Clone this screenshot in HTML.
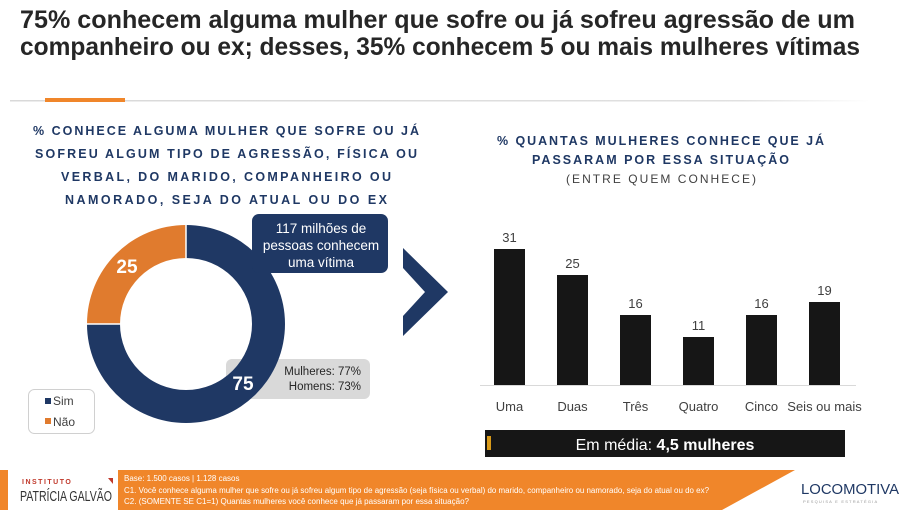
<!DOCTYPE html>
<html><head><meta charset="utf-8"><style>
html,body{margin:0;padding:0;background:#fff;}
svg{display:block;}
text{font-family:"Liberation Sans",sans-serif;}
</style></head><body>
<svg width="909" height="510" viewBox="0 0 909 510" xmlns="http://www.w3.org/2000/svg">
<!-- title -->
<text x="20" y="28" font-size="25" font-weight="bold" fill="#262626" textLength="835" lengthAdjust="spacingAndGlyphs">75% conhecem alguma mulher que sofre ou já sofreu agressão de um</text>
<text x="20" y="55" font-size="25" font-weight="bold" fill="#262626" textLength="840" lengthAdjust="spacingAndGlyphs">companheiro ou ex; desses, 35% conhecem 5 ou mais mulheres vítimas</text>
<!-- divider -->
<defs><linearGradient id="g" x1="0" x2="1"><stop offset="0" stop-color="#d9d9d9"/><stop offset="0.85" stop-color="#e0e0e0"/><stop offset="1" stop-color="#fff"/></linearGradient></defs>
<rect x="10" y="100" width="860" height="1.5" fill="url(#g)"/>
<rect x="45" y="98" width="80" height="4" fill="#f0862a"/>
<!-- headings -->
<g font-size="12.5" font-weight="bold" fill="#1f3864">
<text x="33" y="135" textLength="386" lengthAdjust="spacing">% CONHECE ALGUMA MULHER QUE SOFRE OU  JÁ</text>
<text x="35" y="158" textLength="382" lengthAdjust="spacing">SOFREU ALGUM TIPO DE AGRESSÃO, FÍSICA OU</text>
<text x="61" y="181" textLength="330" lengthAdjust="spacing">VERBAL, DO MARIDO, COMPANHEIRO OU</text>
<text x="65" y="204" textLength="322" lengthAdjust="spacing">NAMORADO, SEJA DO ATUAL OU  DO EX</text>
<text x="497" y="145" textLength="327" lengthAdjust="spacing">% QUANTAS MULHERES CONHECE QUE JÁ</text>
<text x="532" y="164" textLength="257" lengthAdjust="spacing">PASSARAM POR ESSA SITUAÇÃO</text>
</g>
<text x="566" y="183" font-size="12" fill="#404040" textLength="190" lengthAdjust="spacing">(ENTRE QUEM CONHECE)</text>
<!-- gray box (behind donut) -->
<rect x="226" y="359" width="144" height="40" rx="6" fill="#d9d9d9"/>
<text x="361" y="375" font-size="11.5" fill="#262626" text-anchor="end">Mulheres: 77%</text>
<text x="361" y="390" font-size="11.5" fill="#262626" text-anchor="end">Homens: 73%</text>
<!-- donut -->
<path d="M186 225 A99 99 0 1 1 87 324 L120 324 A66 66 0 1 0 186 258 Z" fill="#1f3864"/>
<path d="M87 324 A99 99 0 0 1 186 225 L186 258 A66 66 0 0 0 120 324 Z" fill="#e07b2e"/>
<line x1="186" y1="225" x2="186" y2="258" stroke="#fff" stroke-width="1.5"/>
<line x1="87" y1="324" x2="120" y2="324" stroke="#fff" stroke-width="1.5"/>
<text x="127" y="273" font-size="19" font-weight="bold" fill="#fff" text-anchor="middle">25</text>
<text x="243" y="390" font-size="19" font-weight="bold" fill="#fff" text-anchor="middle">75</text>
<!-- navy callout -->
<rect x="252" y="214" width="136" height="59" rx="7" fill="#1f3864"/>
<g font-size="13.5" fill="#fff" text-anchor="middle">
<text x="321" y="233">117 milhões de</text>
<text x="321" y="250">pessoas conhecem</text>
<text x="321" y="267">uma vítima</text>
</g>
<!-- arrow chevron -->
<path d="M403 248 L448 292 L403 336 L403 316 L425 292 L403 268 Z" fill="#1f3864"/>
<!-- legend -->
<rect x="28.5" y="389.5" width="66" height="44" rx="6" fill="#fff" stroke="#d0d0d0"/>
<rect x="45" y="398" width="6" height="6" fill="#1f3864"/>
<text x="53" y="405" font-size="12" fill="#404040">Sim</text>
<rect x="45" y="418" width="6" height="6" fill="#e07b2e"/>
<text x="53" y="426" font-size="12" fill="#404040">Não</text>
<!-- bars -->
<line x1="480" y1="385.5" x2="856" y2="385.5" stroke="#d9d9d9" stroke-width="1"/>
<g fill="#161616">
<rect x="494" y="249" width="31" height="136"/>
<rect x="557" y="275" width="31" height="110"/>
<rect x="620" y="315" width="31" height="70"/>
<rect x="683" y="337" width="31" height="48"/>
<rect x="746" y="315" width="31" height="70"/>
<rect x="809" y="302" width="31" height="83"/>
</g>
<g font-size="13" fill="#404040" text-anchor="middle">
<text x="509.5" y="242">31</text><text x="572.5" y="268">25</text><text x="635.5" y="308">16</text>
<text x="698.5" y="330">11</text><text x="761.5" y="308">16</text><text x="824.5" y="295">19</text>
<text x="509.5" y="411">Uma</text><text x="572.5" y="411">Duas</text><text x="635.5" y="411">Três</text>
<text x="698.5" y="411">Quatro</text><text x="761.5" y="411">Cinco</text><text x="824.5" y="411">Seis ou mais</text>
</g>
<rect x="485" y="430" width="360" height="27" fill="#161616"/>
<rect x="487" y="436" width="4" height="14" fill="#d89a1a"/>
<text x="665" y="450" font-size="16" fill="#fff" text-anchor="middle">Em média: <tspan font-weight="bold">4,5 mulheres</tspan></text>
<!-- footer -->
<rect x="0" y="470" width="8" height="40" fill="#f0862a"/>
<path d="M118 470 L795 470 L722 510 L118 510 Z" fill="#f0862a"/>
<text x="22" y="484" font-size="7" font-weight="bold" fill="#c0392b" letter-spacing="1.5">INSTITUTO</text>
<text x="20" y="501" font-size="15" fill="#333" textLength="92" lengthAdjust="spacingAndGlyphs">PATRÍCIA GALVÃO</text>
<path d="M108 478 L113 478 L113 484 Z" fill="#c0392b"/>
<g font-size="8" fill="#fff">
<text x="124" y="481">Base: 1.500 casos | 1.128 casos</text>
<text x="124" y="493" textLength="585" lengthAdjust="spacingAndGlyphs">C1. Você conhece alguma mulher que sofre ou já sofreu algum tipo de agressão (seja física ou verbal) do marido, companheiro ou namorado, seja do atual ou do ex?</text>
<text x="124" y="504" textLength="345" lengthAdjust="spacingAndGlyphs">C2. (SOMENTE SE C1=1) Quantas mulheres você conhece que já passaram por essa situação?</text>
</g>
<text x="801" y="494" font-size="15" fill="#1f3864" textLength="98" lengthAdjust="spacingAndGlyphs">LOCOMOTIVA</text>
<text x="803" y="503" font-size="4" fill="#999" letter-spacing="1.2">PESQUISA E ESTRATÉGIA</text>
</svg>
</body></html>
